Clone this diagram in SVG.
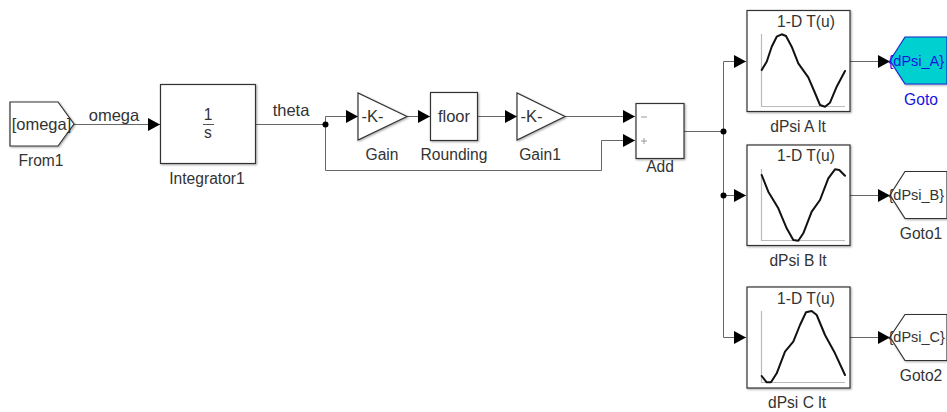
<svg xmlns="http://www.w3.org/2000/svg" width="947" height="412" viewBox="0 0 947 412">
<defs>
<marker id="a" markerUnits="userSpaceOnUse" markerWidth="13" markerHeight="14" refX="12" refY="6.500" orient="auto"><path d="M0 0L12 6.500L0 13Z" fill="#000"/></marker>
<filter id="s" x="-10%" y="-10%" width="120%" height="120%"><feDropShadow dx="1" dy="1" stdDeviation="0.8" flood-color="#000" flood-opacity="0.35"/></filter>
</defs>
<style>
text{font-family:"Liberation Sans",Arial,sans-serif;font-size:15.6px;fill:#333;text-anchor:middle}
.i{font-size:16.500px}
.g{text-anchor:start;font-size:14.500px}
.b{fill:#fff;stroke:#333;stroke-width:1.2;filter:url(#s)}
.c{fill:none;stroke:#666;stroke-width:1}
.ar{marker-end:url(#a)}
.curve{fill:none;stroke:#111;stroke-width:2;stroke-linejoin:round;stroke-linecap:round}
.axis{fill:none;stroke:#bbb;stroke-width:1.2}
</style>
<rect width="947" height="412" fill="#fff"/>
<g id="connectors">
<path class="c ar" d="M74 124.500H160"/>
<path class="c" d="M256 124.500H325"/>
<path class="c ar" d="M325.500 124.500V116.500H358"/>
<path class="c ar" d="M325.500 124.500V170.500H601.500V140.500H635"/>
<path class="c ar" d="M407 116.500H430"/>
<path class="c ar" d="M478 116.500H517"/>
<path class="c ar" d="M565 116.500H635"/>
<path class="c" d="M684 131.500H723.500"/>
<path class="c ar" d="M723.500 131.500V61.500H746"/>
<path class="c ar" d="M723.500 131.500V195.500H746"/>
<path class="c ar" d="M723.500 195.500V337.500H746"/>
<path class="c ar" d="M850 61.500H890"/>
<path class="c ar" d="M850 195.500H890"/>
<path class="c ar" d="M850 337.500H890"/>
<circle cx="325.500" cy="124.500" r="3" fill="#000"/>
<circle cx="723.500" cy="131.500" r="3" fill="#000"/>
<circle cx="723.500" cy="195.500" r="3" fill="#000"/>
<text class="i" x="114" y="121">omega</text>
<text class="i" x="291" y="116">theta</text>
</g>
<g id="from1"><path class="b" d="M10 102H58L74 124L58 146H10Z"/><text class="i" x="41.500" y="130">[omega]</text><text x="41" y="166">From1</text></g>
<g id="integrator1"><rect class="b" x="160.500" y="84.500" width="95" height="79"/><text x="208" y="120">1</text><path d="M203 124.500H214" stroke="#555" fill="none"/><text x="208" y="138">s</text><text x="207" y="184">Integrator1</text></g>
<g id="gain"><path class="b" d="M358 93V140L407 116.500Z"/><text class="i" x="372.500" y="122">-K-</text><text x="382" y="160">Gain</text></g>
<g id="rounding"><rect class="b" x="430.500" y="92.500" width="47" height="48"/><text class="i" x="454" y="122">floor</text><text x="454" y="160">Rounding</text></g>
<g id="gain1"><path class="b" d="M517 93V140L565 116.500Z"/><text class="i" x="531.500" y="122">-K-</text><text x="540" y="160">Gain1</text></g>
<g id="add"><rect class="b" x="636" y="103.500" width="48" height="55"/><path d="M641 117H647" stroke="#999" fill="none"/><path d="M641 141H647M644 138V144" stroke="#999" fill="none"/><text x="660" y="172">Add</text></g>
<g id="lutA"><rect class="b" x="747" y="10.500" width="103" height="101"/><text x="806" y="27">1-D T(u)</text><path class="axis" d="M761.500 34V106.500H845"/><path class="curve" d="M761.700 70L766.700 61.700L771.700 46.700L776.700 36.700L781.700 34.300L786 36L791.700 46.700L798.300 63.300L808.300 77.300L815 93L820 105L825 106.700L830 102.700L836.700 86.700L845 71"/><text x="798" y="132">dPsi A lt</text></g>
<g id="lutB"><rect class="b" x="747" y="145" width="103" height="100.500"/><text x="806" y="161">1-D T(u)</text><path class="axis" d="M761.500 169V240.500H845"/><path class="curve" d="M761.700 175L768.300 191.700L778.300 208.300L786.700 228.300L793.300 240L798.300 240.700L803.300 233.300L811.700 211.700L820 200L828.300 178.300L835 169.300L839.300 170L845 175.700"/><text x="798" y="266">dPsi B lt</text></g>
<g id="lutC"><rect class="b" x="747" y="287" width="103" height="101"/><text x="806" y="304">1-D T(u)</text><path class="axis" d="M761.500 311V382.500H845"/><path class="curve" d="M761.700 376L766.700 382.300L771 382.300L776.700 373.300L785 351.700L793.300 341.700L800 325L806 312.300L811.700 311L816.700 315L825 335L835 353.300L845 375"/><text x="797" y="408">dPsi C lt</text></g>
<g id="goto"><path d="M890 60.500L905 37H947V84H905Z" fill="#00d0d0" stroke="#1a2ad0" stroke-width="1.2" filter="url(#s)"/><text class="g" x="888.500" y="66" style="fill:#1414e0">{dPsi_A}</text><text x="921" y="105" style="fill:#1414e0">Goto</text></g>
<g id="goto1"><path class="b" d="M890 195L905 171.500H947V218.500H905Z"/><text class="g" x="888.500" y="200">{dPsi_B}</text><text x="921" y="239">Goto1</text></g>
<g id="goto2"><path class="b" d="M890 337L905 314.500H947V360.500H905Z"/><text class="g" x="888.500" y="342">{dPsi_C}</text><text x="921" y="381">Goto2</text></g>
</svg>
